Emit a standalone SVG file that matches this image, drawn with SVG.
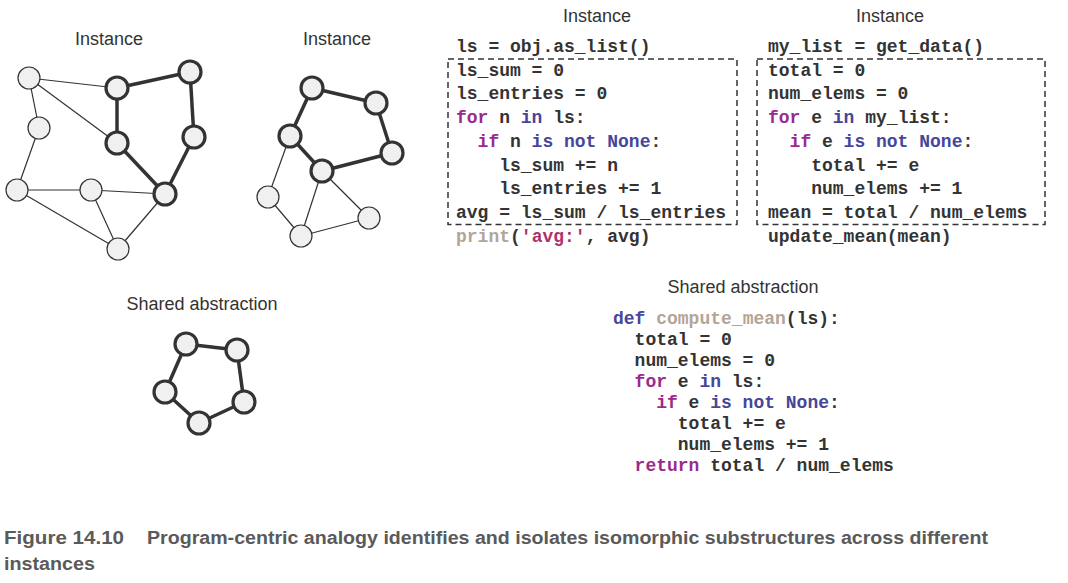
<svg xmlns="http://www.w3.org/2000/svg" width="1068" height="583" viewBox="0 0 1068 583">
<style>
.lbl{font-family:"Liberation Sans",Arial,sans-serif;font-size:18px;fill:#333;text-anchor:middle}
.code{font-family:"Liberation Mono","Courier New",monospace;font-size:18px;font-weight:bold;fill:#333}
.kw{fill:#9a2a8c}
.bl{fill:#46469a}
.fn{fill:#b3a596}
.st{fill:#b0306e}
.thin{stroke:#333;stroke-width:1.2;fill:none}
.thick{stroke:#333;stroke-width:3.5;fill:none}
.n{fill:#f0f0f0;stroke:#333;stroke-width:1.2}
.nt{fill:#f0f0f0;stroke:#333;stroke-width:3.2}
.box{fill:none;stroke:#333;stroke-width:1.5;stroke-dasharray:6 4}
.cap{font-family:"Liberation Sans",Arial,sans-serif;font-size:18px;font-weight:bold;fill:#5a5a5a}
</style>
<rect width="1068" height="583" fill="#fff"/>

<g id="labels">
<text class="lbl" x="109" y="45">Instance</text>
<text class="lbl" x="337" y="45">Instance</text>
<text class="lbl" x="202" y="310">Shared abstraction</text>
<text class="lbl" x="597" y="22">Instance</text>
<text class="lbl" x="890" y="22">Instance</text>
<text class="lbl" x="743" y="293">Shared abstraction</text>
</g>

<g id="connectors">
<!-- left graph -->
<line class="thin" x1="29" y1="78" x2="117" y2="88"/>
<line class="thin" x1="29" y1="78" x2="117" y2="143"/>
<line class="thin" x1="29" y1="78" x2="39" y2="128"/>
<line class="thin" x1="39" y1="128" x2="17" y2="190"/>
<line class="thin" x1="17" y1="190" x2="91" y2="190"/>
<line class="thin" x1="17" y1="190" x2="118" y2="249"/>
<line class="thin" x1="91" y1="190" x2="165" y2="194"/>
<line class="thin" x1="91" y1="190" x2="118" y2="249"/>
<line class="thin" x1="118" y1="249" x2="165" y2="194"/>
<line class="thick" x1="117" y1="88" x2="190" y2="72"/>
<line class="thick" x1="117" y1="88" x2="117" y2="143"/>
<line class="thick" x1="190" y1="72" x2="194" y2="137"/>
<line class="thick" x1="194" y1="137" x2="165" y2="194"/>
<line class="thick" x1="117" y1="143" x2="165" y2="194"/>
<!-- middle graph -->
<line class="thick" x1="312" y1="88" x2="376" y2="103"/>
<line class="thick" x1="376" y1="103" x2="392" y2="153"/>
<line class="thick" x1="392" y1="153" x2="322" y2="171"/>
<line class="thick" x1="322" y1="171" x2="290" y2="136"/>
<line class="thick" x1="290" y1="136" x2="312" y2="88"/>
<line class="thin" x1="290" y1="136" x2="268" y2="197"/>
<line class="thin" x1="268" y1="197" x2="301" y2="236"/>
<line class="thin" x1="301" y1="236" x2="322" y2="171"/>
<line class="thin" x1="322" y1="171" x2="369" y2="218"/>
<line class="thin" x1="369" y1="218" x2="301" y2="236"/>
<!-- shared graph -->
<line class="thick" x1="186" y1="344" x2="237" y2="350"/>
<line class="thick" x1="237" y1="350" x2="244" y2="402"/>
<line class="thick" x1="244" y1="402" x2="199" y2="423"/>
<line class="thick" x1="199" y1="423" x2="165" y2="392"/>
<line class="thick" x1="165" y1="392" x2="186" y2="344"/>
</g>

<g id="left-graph">
<circle class="n" cx="29" cy="78" r="11"/>
<circle class="nt" cx="117" cy="88" r="11"/>
<circle class="nt" cx="190" cy="72" r="11"/>
<circle class="n" cx="39" cy="128" r="11"/>
<circle class="nt" cx="117" cy="143" r="11"/>
<circle class="nt" cx="194" cy="137" r="11"/>
<circle class="n" cx="17" cy="190" r="11"/>
<circle class="n" cx="91" cy="190" r="11"/>
<circle class="nt" cx="165" cy="194" r="11"/>
<circle class="n" cx="118" cy="249" r="11"/>
</g>

<g id="middle-graph">
<circle class="nt" cx="312" cy="88" r="11"/>
<circle class="nt" cx="376" cy="103" r="11"/>
<circle class="nt" cx="290" cy="136" r="11"/>
<circle class="nt" cx="392" cy="153" r="11"/>
<circle class="nt" cx="322" cy="171" r="11"/>
<circle class="n" cx="268" cy="197" r="11"/>
<circle class="n" cx="369" cy="218" r="11"/>
<circle class="n" cx="301" cy="236" r="11"/>
</g>

<g id="shared-graph">
<circle class="nt" cx="186" cy="344" r="11"/>
<circle class="nt" cx="237" cy="350" r="11"/>
<circle class="nt" cx="165" cy="392" r="11"/>
<circle class="nt" cx="244" cy="402" r="11"/>
<circle class="nt" cx="199" cy="423" r="11"/>
</g>

<g id="code-left">
<rect class="box" x="448" y="59" width="289" height="165.5"/>
<text class="code" x="456" y="52" xml:space="preserve">ls = obj.as_list()</text>
<text class="code" x="456" y="76" xml:space="preserve">ls_sum = 0</text>
<text class="code" x="456" y="99" xml:space="preserve">ls_entries = 0</text>
<text class="code" x="456" y="123" xml:space="preserve"><tspan class="kw">for</tspan> n <tspan class="bl">in</tspan> ls:</text>
<text class="code" x="477.6" y="147" xml:space="preserve"><tspan class="kw">if</tspan> n <tspan class="bl">is not None</tspan>:</text>
<text class="code" x="499.2" y="171" xml:space="preserve">ls_sum += n</text>
<text class="code" x="499.2" y="194" xml:space="preserve">ls_entries += 1</text>
<text class="code" x="456" y="218" xml:space="preserve">avg = ls_sum / ls_entries</text>
<text class="code" x="456" y="242" xml:space="preserve"><tspan class="fn">print</tspan>(<tspan class="st">'avg:'</tspan>, avg)</text>
</g>

<g id="code-right">
<rect class="box" x="757" y="59" width="288" height="165.5"/>
<text class="code" x="768" y="52" xml:space="preserve">my_list = get_data()</text>
<text class="code" x="768" y="76" xml:space="preserve">total = 0</text>
<text class="code" x="768" y="99" xml:space="preserve">num_elems = 0</text>
<text class="code" x="768" y="123" xml:space="preserve"><tspan class="kw">for</tspan> e <tspan class="bl">in</tspan> my_list:</text>
<text class="code" x="789.6" y="147" xml:space="preserve"><tspan class="kw">if</tspan> e <tspan class="bl">is not None</tspan>:</text>
<text class="code" x="811.2" y="171" xml:space="preserve">total += e</text>
<text class="code" x="811.2" y="194" xml:space="preserve">num_elems += 1</text>
<text class="code" x="768" y="218" xml:space="preserve">mean = total / num_elems</text>
<text class="code" x="768" y="242" xml:space="preserve">update_mean(mean)</text>
</g>

<g id="code-shared">
<text class="code" x="613" y="324" xml:space="preserve"><tspan class="bl">def</tspan> <tspan class="fn">compute_mean</tspan>(ls):</text>
<text class="code" x="634.6" y="345" xml:space="preserve">total = 0</text>
<text class="code" x="634.6" y="366" xml:space="preserve">num_elems = 0</text>
<text class="code" x="634.6" y="387" xml:space="preserve"><tspan class="kw">for</tspan> e <tspan class="bl">in</tspan> ls:</text>
<text class="code" x="656.2" y="408" xml:space="preserve"><tspan class="kw">if</tspan> e <tspan class="bl">is not None</tspan>:</text>
<text class="code" x="677.8" y="429" xml:space="preserve">total += e</text>
<text class="code" x="677.8" y="450" xml:space="preserve">num_elems += 1</text>
<text class="code" x="634.6" y="471" xml:space="preserve"><tspan class="kw">return</tspan> total / num_elems</text>
</g>

<g id="caption">
<text class="cap" x="4" y="544" textLength="120" lengthAdjust="spacingAndGlyphs">Figure 14.10</text>
<text class="cap" x="147" y="544" textLength="841" lengthAdjust="spacingAndGlyphs">Program-centric analogy identifies and isolates isomorphic substructures across different</text>
<text class="cap" x="4" y="570" textLength="91" lengthAdjust="spacingAndGlyphs">instances</text>
</g>
</svg>
